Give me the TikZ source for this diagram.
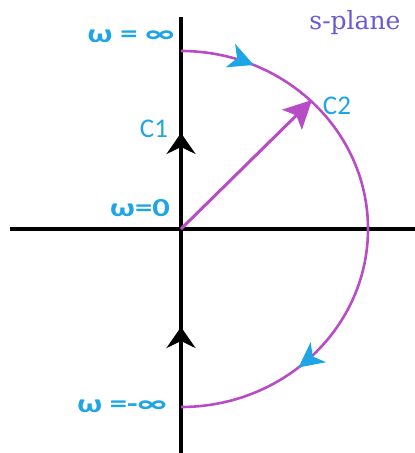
\documentclass[tikz,border=0pt]{standalone}
\usepackage{fontspec}
\usepackage{graphicx}
\setmainfont{Carlito}
\newfontfamily\serifA{DejaVu Serif}
\usetikzlibrary{arrows.meta,decorations.markings}
\definecolor{cyanL}{HTML}{1EA5E6}
\definecolor{magL}{HTML}{B84CC6}
\definecolor{slateL}{HTML}{6A5AD2}
\tikzset{
  blackhead/.tip={Stealth[length=21pt,width=29pt,inset=7pt]},
  cyanhead/.tip={Stealth[length=25pt,width=25pt,inset=7pt]},
  maghead/.tip={Stealth[length=28pt,width=28pt,inset=6pt]}}
\newcommand{\wide}[1]{\scalebox{1.33}[1]{#1}}
\begin{document}
\begin{tikzpicture}[x=1pt,y=1pt,
  axis/.style={line width=4pt, black},
  lbl/.style={text=cyanL, inner sep=0pt, font=\fontsize{27}{29}\selectfont},
  blbl/.style={lbl, font=\fontsize{26}{28}\selectfont\bfseries}]
\useasboundingbox (0,0) rectangle (415,453);
\coordinate (O) at (181,224);
\coordinate (T) at (181,436);
\coordinate (B) at (181,0);
\coordinate (L) at (10,224);
\coordinate (R) at (415,224);
\coordinate (Atop) at (181,402);
\coordinate (P) at (312,353);
\draw[axis] (L) -- (R);
\draw[axis, postaction={decorate}, decoration={markings,
  mark=at position 0.289 with {\arrow{blackhead}},
  mark=at position 0.734 with {\arrow{blackhead}}}] (B) -- (T);
\draw[magL, line width=2.6pt, postaction={decorate}, decoration={markings,
  mark=at position 0.13 with {\arrow[cyanL]{cyanhead}},
  mark=at position 0.78 with {\arrow[cyanL]{cyanhead}}}]
  (Atop) arc[start angle=90, end angle=-90, x radius=187, y radius=178];
\draw[magL, line width=3pt, -maghead] (O) -- (P);
\node[blbl] (winf) at (131,417) {\wide{ω = ∞}};
\node[text=slateL, inner sep=0pt, font=\serifA\fontsize{25}{27}\selectfont] (sp) at (355,430) {s-plane};
\node[lbl] (c1) at (154,324) {C1};
\node[lbl] (c2) at (337,347) {C2};
\node[blbl] (w0) at (140,245) {\wide{ω=0}};
\node[blbl] (wminf) at (122,47) {\wide{ω =-∞}};
\end{tikzpicture}
\end{document}
